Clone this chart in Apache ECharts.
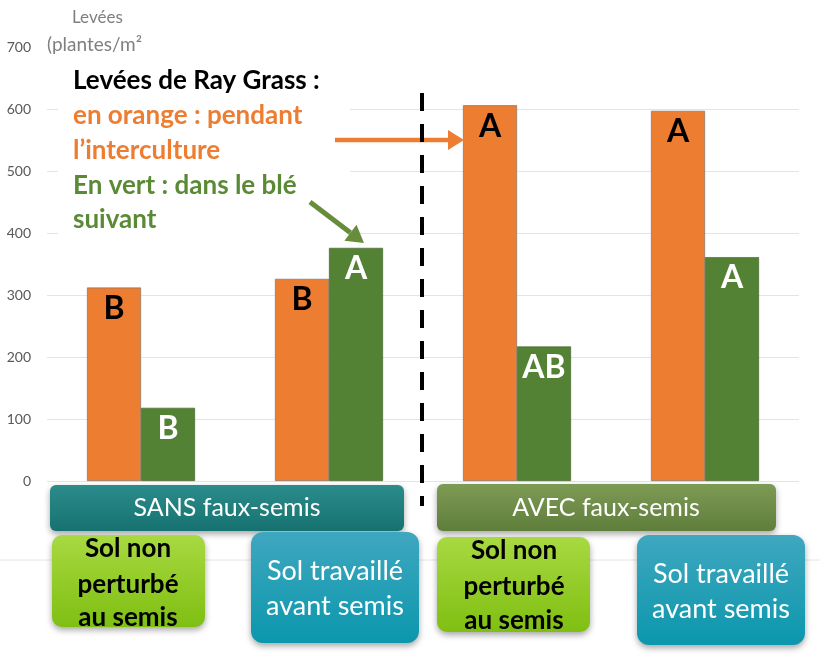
<!DOCTYPE html>
<html>
<head>
<meta charset="utf-8">
<script src="https://cdn.jsdelivr.net/npm/echarts@6/dist/echarts.min.js"></script>
<style>
  html, body { margin: 0; padding: 0; background: #fff; }
  #chart { width: 820px; height: 662px; }
</style>
</head>
<body>
<div id="chart"></div>
<script>
// données
const categories = ['SANS - sol non perturbé', 'SANS - sol travaillé', 'AVEC - sol non perturbé', 'AVEC - sol travaillé'];
const interculture = [312, 326, 606, 597];   // orange
const bleSuivant = [118, 376, 217, 361];     // vert
const lettresOrange = ['B', 'B', 'A', 'A'];
const lettresVert = ['B', 'A', 'AB', 'A'];
const yTicks = [0, 100, 200, 300, 400, 500, 600, 700];

const ORANGE = '#ED7D31';
const GREEN = '#548235';
const FONT = 'Lato, "Open Sans", sans-serif';

var dom = document.getElementById('chart');
var myChart = echarts.init(dom, null, { renderer: 'canvas' });

function grad(c1, c2) {
  return new echarts.graphic.LinearGradient(0, 0, 0, 1, [
    { offset: 0, color: c1 },
    { offset: 1, color: c2 }
  ]);
}

function box(x, y, w, h, r, fill) {
  return {
    type: 'rect', z: 10,
    shape: { x: x, y: y, width: w, height: h, r: r },
    style: {
      fill: fill,
      shadowBlur: 6, shadowOffsetY: 3, shadowColor: 'rgba(0,0,0,0.35)'
    }
  };
}

function txt(x, y, text, color, size, weight, align) {
  return {
    type: 'text', z: 12, x: x, y: y,
    style: {
      text: text, fill: color,
      font: (weight || 'normal') + ' ' + size + 'px ' + FONT,
      align: align || 'left', verticalAlign: 'middle'
    }
  };
}

// flèche : tige + pointe triangulaire
function arrow(x1, y1, x2, y2, color, w, headLen, headHalf) {
  const dx = x2 - x1, dy = y2 - y1;
  const len = Math.sqrt(dx * dx + dy * dy);
  const ux = dx / len, uy = dy / len;
  const bx = x2 - ux * headLen, by = y2 - uy * headLen;
  const px = -uy * headHalf, py = ux * headHalf;
  return [
    { type: 'line', z: 14, shape: { x1: x1, y1: y1, x2: bx, y2: by }, style: { stroke: color, lineWidth: w } },
    { type: 'polygon', z: 14, shape: { points: [[x2, y2], [bx + px, by + py], [bx - px, by - py]] }, style: { fill: color } }
  ];
}

var option = {
  animation: false,
  grid: { left: 47, right: 21, top: 47, bottom: 181 },
  xAxis: {
    type: 'category',
    data: categories,
    axisLine: { show: false },
    axisTick: { show: false },
    axisLabel: { show: false }
  },
  yAxis: {
    type: 'value',
    min: yTicks[0],
    max: yTicks[yTicks.length - 1],
    interval: 100,
    axisLabel: { color: '#595959', fontSize: 14, margin: 16, fontFamily: FONT },
    splitLine: { showMaxLine: false, lineStyle: { color: '#e4e4e4', width: 1 } },
    axisLine: { show: false },
    axisTick: { show: false }
  },
  series: [
    {
      name: 'Interculture',
      type: 'bar',
      data: interculture,
      barWidth: 54,
      barGap: '0%',
      itemStyle: { color: ORANGE, borderColor: '#6b6b6b', borderWidth: 0.6 },
      label: {
        show: true, position: 'insideTop', distance: 5,
        formatter: p => lettresOrange[p.dataIndex],
        color: '#000', fontSize: 32, fontWeight: 'bold', fontFamily: FONT
      }
    },
    {
      name: 'Blé suivant',
      type: 'bar',
      data: bleSuivant,
      barWidth: 54,
      itemStyle: { color: GREEN, borderColor: '#3d5e26', borderWidth: 0.6 },
      label: {
        show: true, position: 'insideTop', distance: 5,
        formatter: p => lettresVert[p.dataIndex],
        color: '#fff', fontSize: 32, fontWeight: 'bold', fontFamily: FONT
      }
    }
  ],
  graphic: [
    // fond blanc de la zone de texte (masque le quadrillage)
    { type: 'rect', z: 5, shape: { x: 58, y: 58, width: 292, height: 182 }, style: { fill: '#fff' } },
    // ligne grise derrière les étiquettes du bas
    { type: 'line', z: 4, shape: { x1: 0, y1: 560, x2: 820, y2: 560 }, style: { stroke: '#e6e6e6', lineWidth: 1 } },

    txt(72, 18, 'Levées', '#7f7f7f', 17),
    txt(47, 45, '(plantes/m²', '#7f7f7f', 19),

    txt(73, 81, 'Levées de Ray Grass :', '#000', 26, 'bold'),
    txt(73, 116, 'en orange : pendant', ORANGE, 26, 'bold'),
    txt(73, 151, 'l\u2019interculture', ORANGE, 26, 'bold'),
    txt(73, 186, 'En vert : dans le blé', '#5a8a36', 26, 'bold'),
    txt(73, 220, 'suivant', '#5a8a36', 26, 'bold'),

    ...arrow(335, 140, 464, 140, ORANGE, 4.5, 16, 10),
    ...arrow(310, 202, 364, 243, '#668c3c', 5, 17, 10),

    // ligne pointillée de séparation
    { type: 'line', z: 14, shape: { x1: 422, y1: 93, x2: 422, y2: 506 },
      style: { stroke: '#000', lineWidth: 4, lineDash: [18, 13] } },

    // bandeaux SANS / AVEC
    box(50, 485, 354, 46, 6, grad('#2b8c8b', '#167270')),
    txt(227, 508, 'SANS faux-semis', '#fff', 25, 'normal', 'center'),
    box(437, 484, 339, 47, 6, grad('#7e9b55', '#5f7e3b')),
    txt(606, 508, 'AVEC faux-semis', '#fff', 25, 'normal', 'center'),

    // modalités
    box(52, 535, 153, 92, 10, grad('#a8d941', '#7fbf12')),
    txt(128, 549, 'Sol non', '#000', 26, 'bold', 'center'),
    txt(128, 585, 'perturbé', '#000', 26, 'bold', 'center'),
    txt(128, 618, 'au semis', '#000', 26, 'bold', 'center'),

    box(251, 532, 168, 111, 12, grad('#3fa7bf', '#0b97ad')),
    txt(335, 571, 'Sol travaillé', '#fff', 27, 'normal', 'center'),
    txt(335, 606, 'avant semis', '#fff', 27, 'normal', 'center'),

    box(437, 537, 153, 95, 10, grad('#a8d941', '#7fbf12')),
    txt(514, 551, 'Sol non', '#000', 26, 'bold', 'center'),
    txt(514, 587, 'perturbé', '#000', 26, 'bold', 'center'),
    txt(514, 621, 'au semis', '#000', 26, 'bold', 'center'),

    box(637, 535, 168, 110, 12, grad('#3fa7bf', '#0b97ad')),
    txt(721, 574, 'Sol travaillé', '#fff', 27, 'normal', 'center'),
    txt(721, 609, 'avant semis', '#fff', 27, 'normal', 'center')
  ]
};

myChart.setOption(option);
window.addEventListener('resize', myChart.resize);
</script>
</body>
</html>
